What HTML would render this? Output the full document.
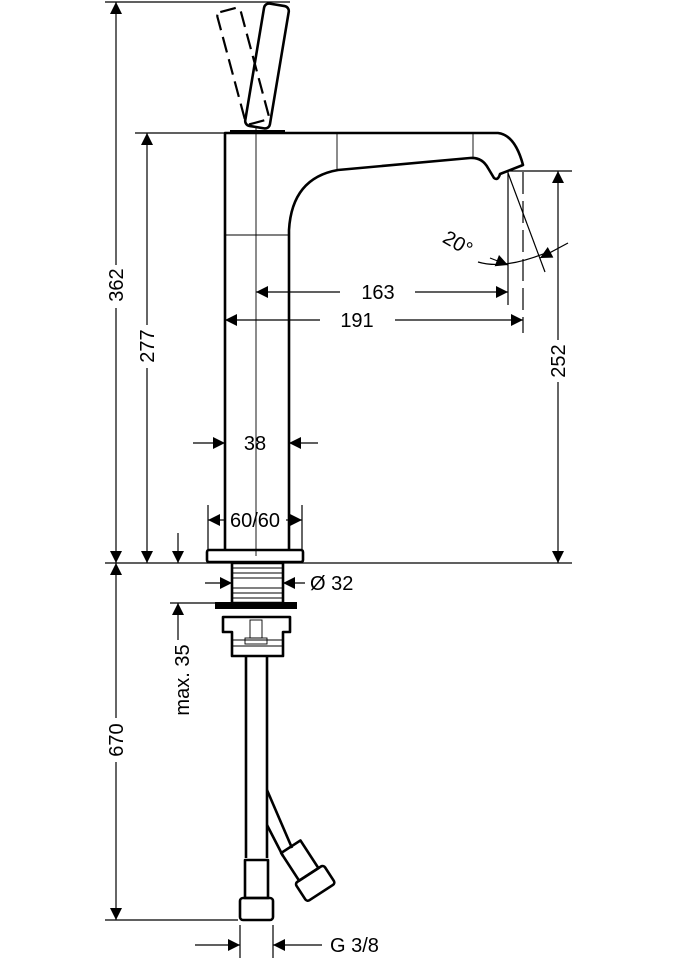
<!DOCTYPE html>
<html><head><style>
html,body{margin:0;padding:0;background:#fff;}
svg{display:block;}
text{font-family:"Liberation Sans",sans-serif;font-size:20px;fill:#000;}
</style></head><body>
<svg width="675" height="960" viewBox="0 0 675 960" xmlns="http://www.w3.org/2000/svg">
<defs>
<marker id="a" viewBox="0 0 10 10" refX="10" refY="5" markerWidth="16" markerHeight="12" markerUnits="userSpaceOnUse" orient="auto"><path d="M0,0L10,5L0,10z" fill="#000"/></marker>
</defs>
<g stroke="#000" fill="none" stroke-width="1.2">
<line x1="105" y1="2" x2="290" y2="2"/>
<line x1="135" y1="133" x2="225" y2="133"/>
<line x1="105" y1="563" x2="572" y2="563"/>
<line x1="105" y1="920" x2="238" y2="920"/>
<line x1="510" y1="171" x2="572" y2="171"/>
<line x1="116" y1="265" x2="116" y2="2" marker-end="url(#a)"/>
<line x1="116" y1="308" x2="116" y2="563" marker-end="url(#a)"/>
<line x1="147" y1="325" x2="147" y2="133" marker-end="url(#a)"/>
<line x1="147" y1="368" x2="147" y2="563" marker-end="url(#a)"/>
<line x1="116" y1="718" x2="116" y2="563" marker-end="url(#a)"/>
<line x1="116" y1="762" x2="116" y2="920" marker-end="url(#a)"/>
<line x1="558" y1="340" x2="558" y2="171" marker-end="url(#a)"/>
<line x1="558" y1="382" x2="558" y2="563" marker-end="url(#a)"/>
<line x1="340" y1="292" x2="256" y2="292" marker-end="url(#a)"/>
<line x1="415" y1="292" x2="508" y2="292" marker-end="url(#a)"/>
<line x1="320" y1="320" x2="225" y2="320" marker-end="url(#a)"/>
<line x1="395" y1="320" x2="523" y2="320" marker-end="url(#a)"/>
<line x1="508" y1="172" x2="508" y2="305"/>
<line x1="523" y1="172" x2="523" y2="333" stroke-dasharray="22,7"/>
<line x1="508" y1="173" x2="545" y2="272"/>
<path d="M478,262 Q505,270 548,252"/>
<path d="M490,258 L508,265" marker-end="url(#a)"/>
<path d="M568,243 L540,258" marker-end="url(#a)"/>
<line x1="193" y1="443" x2="225" y2="443" marker-end="url(#a)"/>
<line x1="318" y1="443" x2="289" y2="443" marker-end="url(#a)"/>
<line x1="208" y1="505" x2="208" y2="550"/>
<line x1="302" y1="505" x2="302" y2="550"/>
<line x1="224" y1="520" x2="208" y2="520" marker-end="url(#a)"/>
<line x1="286" y1="520" x2="302" y2="520" marker-end="url(#a)"/>
<line x1="178" y1="533" x2="178" y2="563" marker-end="url(#a)"/>
<line x1="178" y1="640" x2="178" y2="603" marker-end="url(#a)"/>
<line x1="170" y1="603" x2="215" y2="603"/>
<line x1="205" y1="583" x2="232" y2="583" marker-end="url(#a)"/>
<line x1="305" y1="583" x2="283" y2="583" marker-end="url(#a)"/>
<line x1="195" y1="945" x2="240" y2="945" marker-end="url(#a)"/>
<line x1="322" y1="945" x2="273" y2="945" marker-end="url(#a)"/>
<line x1="240" y1="925" x2="240" y2="958"/>
<line x1="273" y1="925" x2="273" y2="958"/>
</g>
<g stroke="#000" fill="none" stroke-width="2.6" stroke-linejoin="round">
<path d="M225,550 L225,133 L498,133 Q515,135 523,165 L500,174 Q498,181 494,178 L488,168 Q482,157 470,158 L338,170 Q292,178 289,230 L289,550"/>
<rect x="207" y="550" width="96" height="12" rx="2"/>
<g transform="translate(267,66) rotate(9.5)"><rect x="-12.5" y="-62" width="25" height="124" rx="5"/></g>
<g transform="translate(243,66) rotate(-15)"><rect x="-12" y="-58" width="24" height="116" rx="4" stroke-dasharray="16,7" stroke-width="2.2"/></g>
<path d="M230,131 L285,131" stroke-width="2"/>
<rect x="232" y="563" width="51" height="40"/>
<path d="M223,617 L290,617 L290,632 L283,632 L283,656 L232,656 L232,632 L223,632 Z"/>
<line x1="246" y1="656" x2="246" y2="858"/>
<line x1="267" y1="656" x2="267" y2="858"/>
<line x1="267" y1="790" x2="292" y2="848"/>
<line x1="267" y1="825" x2="283" y2="856"/>
<rect x="240" y="898" width="33" height="22" rx="3"/>
<rect x="245" y="860" width="23" height="38"/>
<g transform="translate(313,880) rotate(-33)"><rect x="-17" y="-7" width="34" height="22" rx="3"/><rect x="-12" y="-40" width="23" height="33"/></g>
</g>
<rect x="215" y="602" width="82" height="7" fill="#000"/>
<g stroke="#000" stroke-width="0.9">
<line x1="256" y1="128" x2="256" y2="556"/>
<line x1="337" y1="133" x2="337" y2="170"/>
<line x1="473" y1="133" x2="473" y2="157"/>
<line x1="225" y1="235" x2="289" y2="235"/>
<line x1="232" y1="568" x2="283" y2="568"/><line x1="232" y1="573" x2="283" y2="573"/><line x1="232" y1="578" x2="283" y2="578"/><line x1="232" y1="588" x2="283" y2="588"/><line x1="232" y1="593" x2="283" y2="593"/><line x1="232" y1="598" x2="283" y2="598"/>
<line x1="232" y1="640" x2="283" y2="640"/><line x1="232" y1="646" x2="283" y2="646"/>
<rect x="250" y="620" width="12" height="18" fill="none"/>
<rect x="245" y="638" width="22" height="6" fill="none"/>
</g>
<text x="116" y="292" transform="rotate(-90 116 285)" text-anchor="middle">362</text>
<text x="147" y="353" transform="rotate(-90 147 346)" text-anchor="middle">277</text>
<text x="116" y="747" transform="rotate(-90 116 740)" text-anchor="middle">670</text>
<text x="558" y="368" transform="rotate(-90 558 361)" text-anchor="middle">252</text>
<text x="182" y="687" transform="rotate(-90 182 680)" text-anchor="middle">max. 35</text>
<text x="378" y="299" text-anchor="middle">163</text>
<text x="357" y="327" text-anchor="middle">191</text>
<text x="255" y="450" text-anchor="middle">38</text>
<text x="255" y="527" text-anchor="middle">60/60</text>
<text x="310" y="590">Ø 32</text>
<text x="330" y="952">G 3/8</text>
<text x="458" y="250" transform="rotate(30 458 243)" text-anchor="middle">20°</text>
</svg>
</body></html>
